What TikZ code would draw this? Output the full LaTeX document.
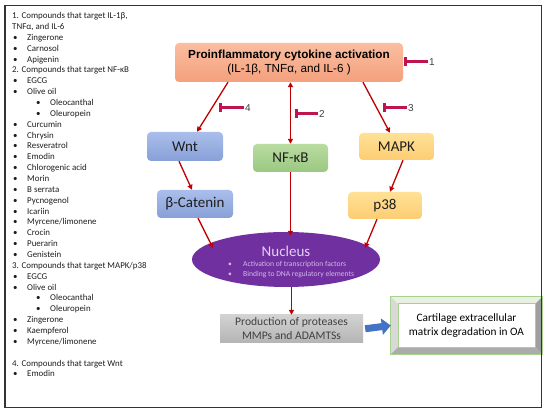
\documentclass[tikz,border=0pt]{standalone}
\usepackage{fontspec}
\setmainfont{Carlito}
\newfontfamily\arialf{Liberation Sans}
\usetikzlibrary{arrows.meta,shapes.geometric,calc}
\definecolor{arrred}{RGB}{192,0,0}
\definecolor{inhcol}{RGB}{190,20,80}
\definecolor{proTop}{RGB}{250,190,160}
\definecolor{proBot}{RGB}{244,160,125}
\definecolor{wntTop}{RGB}{170,190,235}
\definecolor{wntBot}{RGB}{135,160,215}
\definecolor{nfTop}{RGB}{185,220,160}
\definecolor{nfBot}{RGB}{155,200,130}
\definecolor{mkTop}{RGB}{255,225,150}
\definecolor{mkBot}{RGB}{253,205,115}
\definecolor{nucCol}{RGB}{112,48,160}
\definecolor{nucTxt}{RGB}{228,208,245}
\definecolor{prodTop}{RGB}{210,210,210}
\definecolor{prodBot}{RGB}{180,180,180}
\definecolor{blueArr}{RGB}{68,114,196}
\definecolor{bevGreen}{RGB}{169,209,142}
\definecolor{txtDark}{RGB}{30,30,30}
\definecolor{txtGray}{RGB}{64,64,64}
\newcommand\lbul{\makebox[14pt][l]{•}}
\newcommand\nbul{\makebox[15pt][l]{•}}
\begin{document}
\begin{tikzpicture}[x=1pt,y=-1pt,
  pathbox/.style={rectangle, rounded corners=4pt, inner sep=0pt, text=txtDark,
    font=\fontsize{15}{18}\selectfont},
  arr/.style={draw=arrred, line width=1.3pt, -{Triangle[length=5pt,width=5pt]}},
  arrboth/.style={draw=arrred, line width=1.3pt, {Triangle[length=5pt,width=5pt]}-{Triangle[length=5pt,width=5pt]}},
  inh/.style={draw=inhcol, line width=3pt, -{Bar[width=9pt]}},
  inhlbl/.style={anchor=west, inner sep=1pt, text=txtGray, font=\arialf\fontsize{10}{12}\selectfont},
  lsthead/.style={anchor=base west, inner sep=0pt, xshift=12pt, text=txtDark, font=\fontsize{8.9}{10}\selectfont},
  lstitem/.style={lsthead, xshift=1pt, execute at begin node=\lbul},
  lstsub/.style={lsthead, xshift=24pt, execute at begin node=\lbul},
  blockarr/.style={draw=blueArr, line width=7pt, -{Triangle[length=9pt,width=16pt]}}
]
\useasboundingbox (0,0) rectangle (550,414);
\fill[white] (0,0) rectangle (550,414);

% left list
\foreach \i/\s/\t in {
 0/lsthead/{1. Compounds that target IL-1β,},
 1/lsthead/{TNFα, and IL-6},
 2/lstitem/Zingerone,
 3/lstitem/Carnosol,
 4/lstitem/Apigenin,
 5/lsthead/{2. Compounds that target NF-κB},
 6/lstitem/EGCG,
 7/lstitem/Olive oil,
 8/lstsub/Oleocanthal,
 9/lstsub/Oleuropein,
 10/lstitem/Curcumin,
 11/lstitem/Chrysin,
 12/lstitem/Resveratrol,
 13/lstitem/Emodin,
 14/lstitem/Chlorogenic acid,
 15/lstitem/Morin,
 16/lstitem/B serrata,
 17/lstitem/Pycnogenol,
 18/lstitem/Icariin,
 19/lstitem/{Myrcene/limonene},
 20/lstitem/Crocin,
 21/lstitem/Puerarin,
 22/lstitem/Genistein,
 23/lsthead/{3. Compounds that target MAPK/p38},
 24/lstitem/EGCG,
 25/lstitem/Olive oil,
 26/lstsub/Oleocanthal,
 27/lstsub/Oleuropein,
 28/lstitem/Zingerone,
 29/lstitem/Kaempferol,
 30/lstitem/{Myrcene/limonene},
 32/lsthead/{4. Compounds that target Wnt},
 33/lstitem/Emodin}
 {\node[\s] (L\i) at ({0},{18.6+10.86*\i}) {\t};}

% pathway boxes
\node[pathbox, top color=proTop, bottom color=proBot, minimum width=228pt, minimum height=39pt,
  align=center, font=\arialf\fontsize{11.7}{14}\selectfont, text=black] (pro) at (289,62.5)
  {\textbf{Proinflammatory cytokine activation}\\(IL-1β, TNFα, and IL-6 )};
\node[pathbox, top color=wntTop, bottom color=wntBot, minimum width=76pt, minimum height=29pt] (wnt) at (185,146.5) {Wnt};
\node[pathbox, top color=nfTop, bottom color=nfBot, minimum width=75pt, minimum height=28pt] (nfkb) at (290.5,158) {NF-κB};
\node[pathbox, top color=mkTop, bottom color=mkBot, minimum width=75pt, minimum height=27pt] (mapk) at (396.5,146.5) {MAPK};
\node[pathbox, top color=wntTop, bottom color=wntBot, minimum width=76pt, minimum height=28pt] (bcat) at (195,204) {β-Catenin};
\node[pathbox, top color=mkTop, bottom color=mkBot, minimum width=74pt, minimum height=27pt] (p38) at (385,205.5) {p38};

% nucleus
\node[ellipse, fill=nucCol, minimum width=188pt, minimum height=55pt, inner sep=0pt] (nuc) at (286,259.5) {};
\node[inner sep=0pt, text=nucTxt, font=\fontsize{15}{18}\selectfont] (nuct) at (286,251) {Nucleus};
\node[anchor=west, inner sep=0pt, align=left, text=nucTxt!85!nucCol, font=\fontsize{7.6}{10}\selectfont] (nucb) at (228,269.5)
  {\nbul Activation of transcription factors\\\nbul Binding to DNA regulatory elements};

% production
\node[rectangle, top color=prodTop, bottom color=prodBot, minimum width=143pt, minimum height=28pt, inner sep=0pt,
  align=center, text=txtGray, font=\fontsize{11.6}{14}\selectfont] (prod) at (291.5,329)
  {Production of proteases\\MMPs and ADAMTSs};

% cartilage bevelled box
\node[rectangle, fill=white, minimum width=151pt, minimum height=57pt, inner sep=0pt] (cart) at (466.5,325.5) {};
\fill[gray!18!bevGreen!25] (cart.north west) -- (cart.north east) -- ($(cart.north east)+(-7,7)$) -- ($(cart.north west)+(7,7)$) -- cycle;
\fill[gray!30] (cart.north west) -- ($(cart.north west)+(7,7)$) -- ($(cart.south west)+(7,-7)$) -- (cart.south west) -- cycle;
\fill[gray!65] (cart.south west) -- (cart.south east) -- ($(cart.south east)+(-7,-7)$) -- ($(cart.south west)+(7,-7)$) -- cycle;
\fill[gray!75] (cart.north east) -- (cart.south east) -- ($(cart.south east)+(-7,-7)$) -- ($(cart.north east)+(-7,7)$) -- cycle;
\draw[bevGreen, line width=0.8pt] (cart.north west) rectangle (cart.south east);
\draw[bevGreen, line width=0.6pt] ($(cart.north west)+(7,7)$) rectangle ($(cart.south east)+(-7,-7)$);
\node[inner sep=0pt, align=center, text=black, font=\fontsize{11.3}{14}\selectfont] (cartt) at (466.5,326)
  {Cartilage extracellular\\matrix degradation in OA};

% connectors
\coordinate (nuctop) at ($(nuc.north)+(0,4)$);
\coordinate (nucl) at ($(nuc.center)+(-73,-11.5)$);
\coordinate (nucr) at ($(nuc.center)+(79,-11.5)$);
\draw[arr] ([xshift=-61pt]pro.south) -- ([xshift=12pt]wnt.north);
\draw[arrboth] (nfkb.north |- pro.south) -- (nfkb.north);
\draw[arr] ([xshift=74pt]pro.south) -- ([xshift=-6.5pt]mapk.north);
\draw[arr] ([xshift=-6pt]wnt.south) -- ([xshift=-3pt]bcat.north);
\draw[arr] ([xshift=6.5pt]mapk.south) -- ([xshift=5pt]p38.north);
\draw[arr] ([xshift=3pt]bcat.south) -- (nucl);
\draw[arr] ([xshift=-8pt]p38.south) -- (nucr);
\draw[arr] (nfkb.south) -- (nfkb.south |- nuctop);
\draw[arr] (prod.north |- nuc.south) -- (prod.north);
\draw[blockarr, shorten <=2pt] (prod.east) -- (cart.west);

% inhibitors
\coordinate (b1) at (404,62);
\coordinate (b4) at (219,108);
\coordinate (b2) at (295,114);
\coordinate (b3) at (383,108);
\node[inhlbl] (n1) at (428,62) {1};
\node[inhlbl] (n4) at (244,108) {4};
\node[inhlbl] (n2) at (318,114) {2};
\node[inhlbl] (n3) at (407,108) {3};
\draw[inh] (n1.west) -- (b1);
\draw[inh] (n4.west) -- (b4);
\draw[inh] (n2.west) -- (b2);
\draw[inh] (n3.west) -- (b3);

% outer frame
\draw[line width=1.5pt, black!80] (5,5.5) rectangle (541.5,407.5);
\end{tikzpicture}
\end{document}
